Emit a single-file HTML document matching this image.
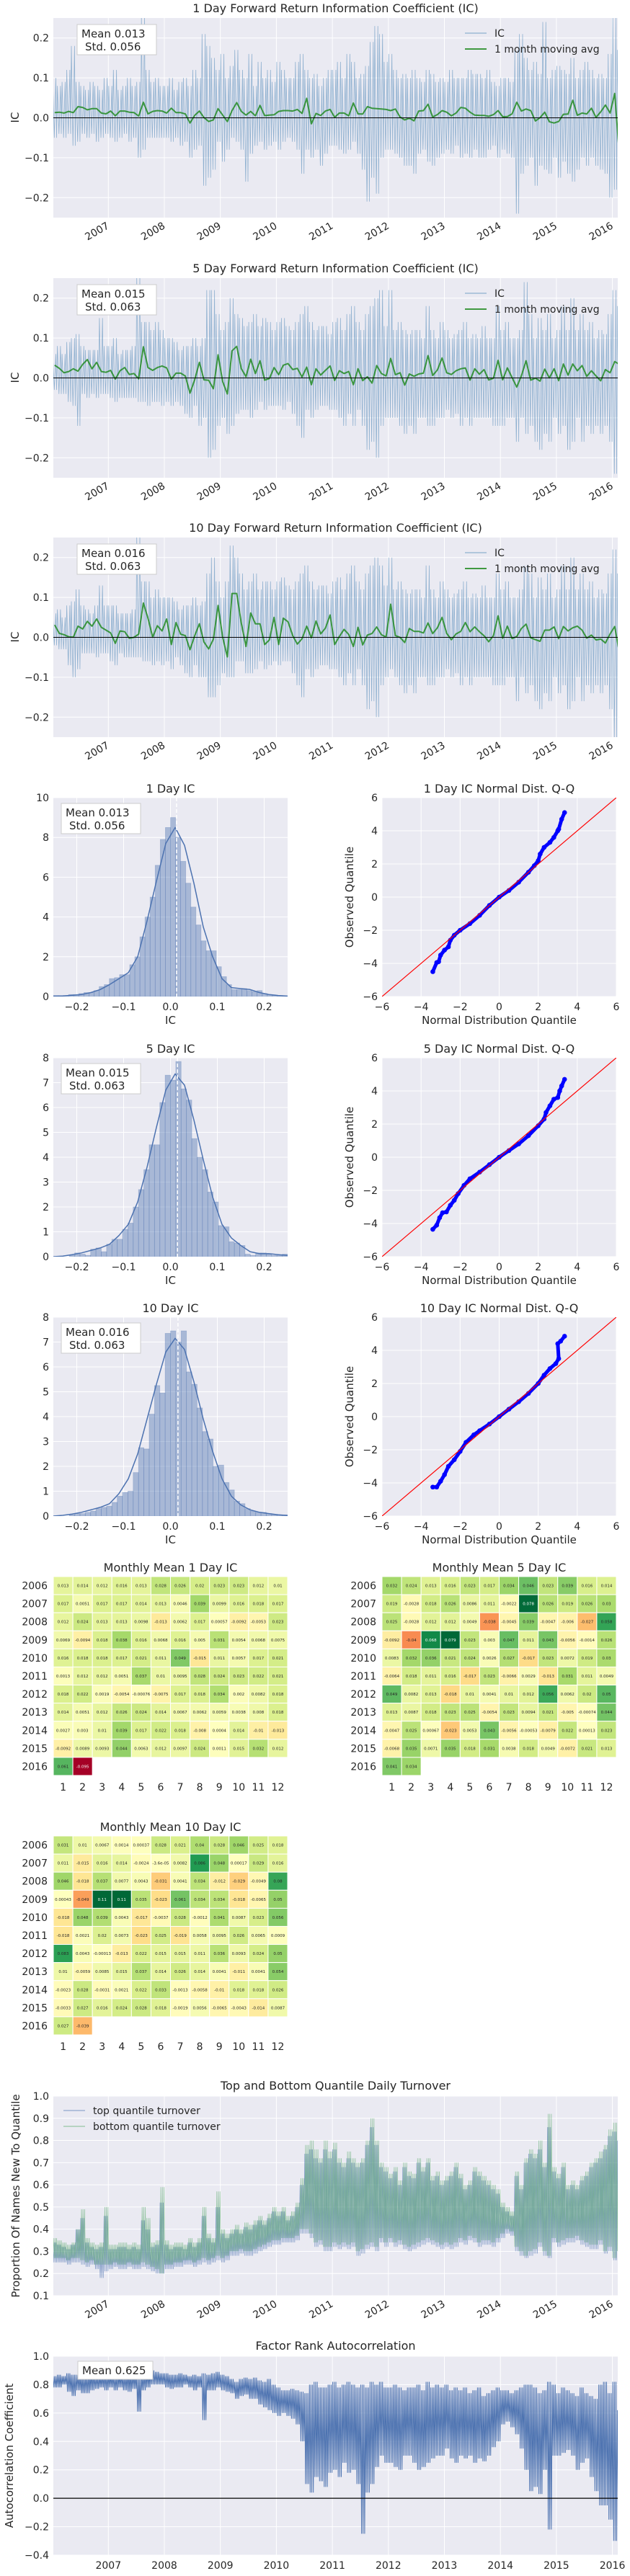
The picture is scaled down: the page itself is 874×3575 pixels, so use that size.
<!DOCTYPE html>
<html><head><meta charset="utf-8">
<style>
html,body{margin:0;padding:0;background:#fff;}
svg{display:block;font-family:"DejaVu Sans","Liberation Sans",sans-serif;}
</style></head>
<body>
<svg id="chart" xmlns="http://www.w3.org/2000/svg" width="874" height="3575" viewBox="0 0 874 3575"></svg>
<script>
// ---------- DATA ----------
const monthLabels = [1,2,3,4,5,6,7,8,9,10,11,12];
const yearLabels = [2006,2007,2008,2009,2010,2011,2012,2013,2014,2015,2016];
const dateTicks = [2007,2008,2009,2010,2011,2012,2013,2014,2015,2016];
const icTicks = [-0.2,-0.1,0.0,0.1,0.2];
const turnoverTicks = [0.1,0.2,0.3,0.4,0.5,0.6,0.7,0.8,0.9,1.0];
const autoTicks = [-0.4,-0.2,0.0,0.2,0.4,0.6,0.8,1.0];
const histXTicks = [-0.2,-0.1,0.0,0.1,0.2];
const qqTicks = [-6,-4,-2,0,2,4,6];

const heat1 = [
[.013,.014,.012,.016,.013,.028,.026,.02,.023,.023,.012,.01],
[.017,.0051,.017,.017,.014,.013,.0046,.039,.0099,.016,.018,.017],
[.012,.024,.013,.013,.0098,-.013,.0062,.017,.00057,-.0092,-.0053,.023],
[.0069,-.0094,.018,.038,.016,.0068,.016,.005,.031,.0054,.0068,.0075],
[.016,.018,.018,.017,.021,.011,.049,-.015,.011,.0057,.017,.021],
[.0013,.012,.012,.0051,.037,.01,.0095,.028,.024,.023,.022,.021],
[.018,.022,.0019,-.0054,-.00076,-.0075,.017,.018,.034,.002,.0082,.018],
[.014,.0051,.012,.026,.024,.014,.0067,.0062,.0059,.0038,.008,.018],
[.0027,.003,.01,.039,.017,.022,.018,-.008,.0004,.014,-.01,-.013],
[-.0092,.0089,.0093,.044,.0063,.012,.0097,.024,.0011,.015,.032,.012],
[.061,-.095]];
const heat5 = [
[.032,.024,.013,.016,.023,.017,.034,.046,.023,.039,.016,.014],
[.019,-.0028,.018,.026,.0086,.011,-.0022,.078,.026,.019,.026,.03],
[.025,-.0028,.012,.012,.0049,-.038,-.0045,.039,-.0047,-.006,-.027,.058],
[-.0092,-.04,.068,.079,.023,.003,.047,.011,.043,-.0056,-.0014,.026],
[.0083,.032,.036,.021,.024,.0026,.027,-.017,.023,.0072,.019,.03],
[-.0064,.018,.011,.016,-.017,.023,-.0066,.0029,-.013,.031,.011,.0049],
[.049,.0082,.013,-.018,.01,.0041,.01,.012,.056,.0062,.02,.05],
[.013,.0087,.018,.023,.025,-.0054,.023,.0094,.021,-.005,-.00074,.044],
[-.0047,.025,.00067,-.023,.0053,.043,-.0056,-.00053,-.0079,.022,.00013,.023],
[-.0068,.035,.0071,.035,.018,.031,.0038,.018,.0049,-.0072,.021,.013],
[.041,.034]];
const heat10 = [
[.031,.01,.0067,.0014,.00037,.028,.021,.04,.028,.046,.025,.018],
[.011,-.015,.016,.014,-.0024,-.000036,.0082,.086,.048,.00017,.029,.016],
[.046,-.018,.037,.0077,.0043,-.031,.0041,.034,-.012,-.029,-.0049,.08],
[.00043,-.049,.11,.11,.035,-.023,.061,.034,.034,-.018,-.0065,.05],
[-.018,.048,.039,.0043,-.017,-.0037,.028,-.0012,.041,.0087,.023,.056],
[-.018,.0021,.02,.0073,-.023,.025,-.019,.0058,.0095,.026,.0065,.0009],
[.083,.0043,-.00013,-.013,.022,.015,.015,.011,.036,.0093,.024,.05],
[.01,-.0059,.0085,.015,.037,.014,.026,.014,.0041,-.011,.0041,.054],
[-.0023,.028,-.0031,.0021,.022,.033,-.0013,-.0058,-.01,.018,.018,.026],
[-.0033,.027,.016,.024,.028,.018,-.0019,.0056,-.0065,-.0043,-.014,.0087],
[.027,-.039]];

const ic1Hi = [10,8,9,12,18,9,8,7,9,8,7,10, 8,12,7,8,10,8,9,25,12,9,10,8, 8,10,7,9,10,8,12,10,21,18,15,12, 16,10,13,17,12,10,16,8,14,10,12,9, 14,12,10,10,14,16,12,10,11,8,10,12, 12,14,10,16,14,10,11,13,19,23,21,14, 16,12,10,11,10,12,10,9,12,11,9,10, 9,12,10,10,10,12,11,11,10,12,9,8, 10,10,9,17,21,15,12,14,11,24,10,12, 13,12,11,15,10,12,14,12,10,11,10,16, 25,17];
const ic1Lo = [-5,-4,-5,-4,-7,-6,-4,-5,-4,-6,-5,-4, -5,-6,-5,-4,-6,-5,-10,-8,-5,-5,-5,-5, -5,-6,-5,-7,-6,-10,-8,-7,-17,-15,-13,-6, -11,-8,-5,-6,-8,-16,-9,-7,-6,-8,-7,-6, -8,-6,-5,-6,-8,-14,-8,-10,-8,-12,-9,-7, -7,-8,-9,-8,-6,-9,-13,-21,-15,-19,-10,-8, -8,-9,-10,-12,-12,-14,-9,-8,-11,-12,-10,-9, -8,-9,-7,-10,-9,-10,-8,-10,-10,-8,-7,-10, -8,-9,-10,-24,-14,-12,-10,-17,-12,-13,-14,-10, -15,-11,-14,-16,-13,-10,-12,-10,-12,-13,-14,-20, -18,-12];
const ic5Hi = [6,8,6,9,10,11,8,7,7,7,15,8, 8,10,6,7,7,8,25,14,14,12,14,12, 10,10,9,7,8,8,10,8,10,22,22,16, 12,14,20,16,15,13,14,16,13,15,14,12, 14,15,13,12,14,16,18,14,12,13,13,11, 14,15,12,16,18,14,12,16,18,20,22,13, 22,12,14,12,11,12,12,10,18,12,10,14, 12,10,11,12,14,10,11,10,13,10,10,18, 12,14,10,10,12,24,16,10,15,12,16,10, 12,18,12,20,12,16,12,14,10,12,11,16, 22,18];
const ic5Lo = [-3,-4,-4,-6,-7,-12,-4,-5,-4,-5,-4,-4, -5,-6,-5,-5,-5,-5,-6,-6,-7,-6,-6,-7, -6,-7,-6,-7,-9,-10,-7,-12,-10,-20,-18,-12, -10,-14,-12,-9,-8,-8,-10,-8,-6,-8,-7,-7, -7,-8,-6,-9,-12,-15,-8,-10,-8,-7,-7,-8, -8,-10,-12,-9,-12,-8,-12,-18,-16,-20,-12,-10, -10,-10,-12,-14,-12,-14,-10,-10,-12,-12,-10,-10, -8,-10,-9,-12,-10,-12,-10,-10,-10,-10,-12,-12, -12,-10,-10,-16,-10,-14,-12,-16,-18,-14,-16,-10, -14,-12,-18,-16,-10,-16,-12,-14,-12,-14,-12,-16, -24,-20];
const ic10Hi = [6,7,5,8,9,12,8,7,6,8,13,8, 8,8,6,6,6,7,25,14,14,10,12,10, 10,10,9,7,8,8,10,8,9,16,20,14, 10,14,23,20,16,12,14,16,12,14,14,12, 14,15,13,12,14,16,18,14,12,13,13,11, 14,15,12,16,18,14,12,16,18,20,18,13, 20,12,14,12,11,12,12,10,18,12,10,14, 12,10,11,12,14,10,11,10,13,10,10,16, 12,14,10,10,12,18,16,10,15,12,16,10, 12,18,12,20,12,16,12,14,10,12,11,16, 22,16];
const ic10Lo = [-2,-3,-3,-7,-10,-8,-4,-4,-4,-5,-4,-4, -6,-7,-4,-5,-5,-5,-5,-6,-6,-7,-6,-7, -6,-8,-5,-7,-9,-10,-7,-10,-10,-15,-15,-12, -9,-10,-10,-6,-6,-9,-9,-8,-6,-8,-7,-6, -7,-6,-6,-9,-12,-15,-8,-10,-8,-7,-7,-8, -8,-10,-12,-9,-12,-8,-12,-18,-16,-20,-12,-10, -8,-10,-12,-14,-12,-14,-10,-10,-12,-12,-10,-10, -8,-10,-9,-12,-10,-12,-10,-10,-10,-10,-12,-12, -12,-10,-10,-16,-10,-14,-12,-16,-18,-14,-16,-10, -14,-12,-18,-16,-10,-16,-12,-14,-12,-14,-12,-18, -25,-20];

const botHi = [36,35,34,33,34,40,49,36,34,33,34,50, 33,33,34,34,33,34,33,50,45,34,35,59, 35,33,34,34,33,36,34,36,50,38,36,57, 40,38,40,42,40,43,42,44,46,44,47,50, 48,50,46,48,52,63,78,80,76,72,80,75, 79,72,70,75,72,70,72,80,90,80,70,68, 65,68,62,70,66,65,72,68,72,64,66,62, 64,66,70,65,60,62,68,66,64,62,60,58, 52,50,48,66,60,72,76,74,80,70,92,68, 65,70,60,62,60,64,66,70,72,75,78,85, 88,85];
const botLo = [27,27,27,26,27,27,26,25,26,24,24,24, 24,25,24,24,25,24,24,25,24,23,22,20, 24,24,25,25,26,26,25,26,27,26,27,28, 27,28,30,30,31,30,30,31,32,33,34,35, 35,36,36,36,37,40,40,38,34,35,32,32, 34,33,34,33,34,30,31,33,34,32,36,34, 36,34,35,33,32,33,34,35,36,35,34,33, 34,33,34,36,35,37,36,34,35,35,34,36, 38,40,39,32,30,28,30,31,34,30,28,36, 34,35,36,36,37,35,34,33,33,35,30,32, 27,30];
const topHi = [34,33,32,31,33,40,45,34,32,31,32,46, 31,31,32,32,31,32,31,44,40,32,33,52, 33,31,32,32,31,34,32,34,46,36,34,50, 38,36,38,40,38,41,40,42,44,42,45,48, 46,48,44,46,50,60,74,76,72,70,76,72, 76,70,68,72,70,68,70,78,86,78,68,66, 63,66,60,68,64,63,70,66,70,62,64,60, 62,64,68,63,58,60,66,64,62,60,58,56, 50,48,46,64,58,70,74,72,76,68,86,66, 63,68,58,60,58,62,64,68,70,72,76,82, 84,80];
const topLo = [25,25,25,24,25,25,24,23,24,22,18,21, 22,23,22,22,23,22,22,23,22,21,20,20, 22,22,23,23,24,24,23,24,25,24,25,26, 25,26,28,28,29,28,28,29,30,31,32,33, 33,34,34,34,35,38,38,36,32,33,30,30, 32,31,32,31,32,28,29,31,32,30,34,32, 34,32,33,31,30,31,32,33,34,33,32,31, 32,31,32,34,33,35,34,32,33,33,32,34, 36,38,37,30,28,27,28,29,32,28,27,34, 32,33,34,34,35,33,32,31,31,33,29,30, 26,28];

const acHi = [86,87,86,88,87,87,86,87,88,86,86,87, 87,86,87,86,88,87,87,87,88,90,89,88, 88,87,87,88,87,86,87,86,88,87,88,89, 87,86,84,82,84,85,84,85,83,82,84,80, 78,76,76,77,76,75,74,80,82,78,78,80, 82,78,80,82,80,78,80,78,82,80,82,78, 78,80,78,76,78,78,80,76,82,78,80,78, 80,76,78,76,78,74,76,78,72,74,76,78, 76,76,74,76,78,80,80,78,74,76,82,80, 74,78,76,74,72,78,74,72,70,80,82,74, 82,62];
const acLo = [78,78,80,75,72,76,74,74,76,77,78,76, 78,76,78,76,75,77,61,76,78,80,80,80, 78,77,78,78,80,78,76,78,55,76,76,78, 76,75,74,70,72,73,70,70,66,64,62,60, 58,60,58,56,52,40,10,4,15,12,8,18, 20,15,25,18,20,10,-25,4,10,22,30,25, 25,22,20,30,30,25,20,22,25,28,30,30, 35,28,25,30,28,30,25,28,26,30,36,40, 52,54,50,45,35,20,5,8,3,20,-22,30, 30,32,34,30,20,25,28,15,5,-5,-5,-15, -30,-10];

const hist1 = [0.05,0.05,0.05,0.1,0.1,0.15,0.2,0.2,0.3,0.5,0.6,0.9,0.95,1.1,1.1,1.6,2.0,3.0,4.0,5.0,6.6,7.9,8.5,9.0,8.0,6.8,5.7,4.5,3.6,2.8,2.3,2.3,1.5,1.0,0.6,0.35,0.35,0.4,0.3,0.25,0.3,0.15,0.1,0.05,0.05,0.02];
const hist5 = [0,0,0,0.05,0.15,0.1,0.05,0.3,0.35,0.2,0.5,0.7,0.7,1.1,1.35,2.0,2.7,3.5,4.5,4.5,6.2,7.3,7.1,7.85,6.75,6.3,4.75,4.0,3.5,2.6,2.2,1.25,1.2,0.6,0.55,0.45,0.1,0.05,0.15,0.15,0.1,0.05,0.05,0.1];
const hist10 = [0,0,0,0.05,0.1,0.1,0.15,0.2,0.3,0.35,0.4,0.55,0.8,0.95,1.0,1.75,2.75,2.7,4.1,5.25,4.95,7.35,7.45,7.0,7.45,5.8,5.3,4.35,3.4,3.1,2.0,2.05,1.35,1.05,0.6,0.5,0.3,0.2,0.15,0.15,0.1,0.05,0.05,0.05];
const kde1 = [0.02,0.03,0.06,0.1,0.2,0.35,0.6,0.9,1.2,2.0,3.8,5.8,7.7,8.5,7.6,5.7,3.5,2.0,0.9,0.45,0.4,0.35,0.2,0.1,0.05,0.02];
const kde5 = [0.0,0.02,0.08,0.15,0.25,0.35,0.5,0.85,1.3,2.2,3.6,5.2,6.7,7.35,6.9,5.5,3.9,2.4,1.3,0.75,0.45,0.2,0.12,0.12,0.08,0.05];
const kde10 = [0.0,0.03,0.08,0.15,0.25,0.35,0.5,0.9,1.5,2.5,3.9,5.3,6.6,7.15,6.7,5.4,3.9,2.6,1.5,0.8,0.45,0.25,0.15,0.1,0.05,0.02];
const icMeans = [0.013,0.015,0.016];
const icStds = [0.056,0.063,0.063];
const acMean = 0.625;

const qq1X = [-3.4,-3.2,-3.1,-3.0,-2.8,-2.6,-2.5,-2.3,-2.0,-1.5,-1.0,-0.5,0,0.5,1.0,1.5,1.8,2.0,2.1,2.3,2.6,2.8,3.0,3.05,3.2,3.35];
const qq1Y = [-4.5,-3.95,-3.9,-3.5,-3.2,-3.0,-2.6,-2.3,-2.0,-1.6,-1.1,-0.5,0,0.4,0.9,1.5,1.9,2.2,2.6,3.0,3.3,3.6,4.0,4.1,4.7,5.1];
const qq5X = [-3.4,-3.2,-3.05,-2.9,-2.7,-2.5,-2.3,-2.1,-1.8,-1.5,-1,-0.5,0,0.5,1,1.5,2,2.3,2.4,2.6,2.8,3.0,3.1,3.2,3.35];
const qq5Y = [-4.35,-4.1,-3.65,-3.35,-3.3,-2.9,-2.6,-2.2,-1.7,-1.3,-0.9,-0.45,0,0.4,0.8,1.3,1.9,2.3,2.7,3.1,3.5,3.6,4.0,4.3,4.7];
const qq10X = [-3.4,-3.2,-3.0,-2.8,-2.6,-2.3,-2.0,-1.7,-1.3,-1,-0.5,0,0.5,1,1.5,2,2.3,2.6,2.9,3.05,3.0,3.15,3.35];
const qq10Y = [-4.25,-4.25,-3.9,-3.5,-3.0,-2.6,-2.1,-1.55,-1.1,-0.85,-0.45,0,0.45,0.9,1.4,2.0,2.5,2.9,3.2,3.5,4.4,4.55,4.85];

// ---------- DRAWING ----------
const NS = "http://www.w3.org/2000/svg";
const svg = document.getElementById('chart');
const TXT = "#262626", BG = "#eaeaf2";
function mk(tag, attrs, parent){
  const e = document.createElementNS(NS, tag);
  for (const k in attrs) e.setAttribute(k, attrs[k]);
  (parent || svg).appendChild(e);
  return e;
}
function label(x, y, s, size, anchor, parent, nm, extra){
  const t = mk('text', Object.assign({x:x, y:y, 'font-size':size, fill:TXT, 'text-anchor':anchor||'middle'}, extra||{}), parent);
  t.textContent = s;
  
  
  return t;
}
function fmtTick(v, d){ const s = v.toFixed(d); return s.replace('-', '\u2212'); }
function group(nm){ const g = mk('g', {});   return g; }
let clipN = 0;
function axes(g, x0, y0, w, h, nm){
  const r = mk('rect', {x:x0, y:y0, width:w, height:h, fill:BG}, g);
  
  
  const id = 'clip' + (clipN++);
  const cp = mk('clipPath', {id:id}, g);
  mk('rect', {x:x0, y:y0, width:w, height:h}, cp);
  return mk('g', {'clip-path':'url(#' + id + ')'}, g);
}
function hGrid(g, x0, w, ys){ ys.forEach(y => { const l = mk('line', {x1:x0, x2:x0+w, y1:y, y2:y, stroke:'#fff', 'stroke-width':1}, g);   }); }
function vGrid(g, y0, h, xs){ xs.forEach(x => { const l = mk('line', {x1:x, x2:x, y1:y0, y2:y0+h, stroke:'#fff', 'stroke-width':1}, g);   }); }

const WX0 = 74, WW = 783, WH = 277;
function xTime(yr){ return 150.3 + (yr - 2007) * 77.7; }
function monthYear(i, f){ return 2006 + (i + f) / 12; }

function envelopePath(hi, lo, scaleY, pattern){
  let d = '';
  for (let i = 0; i < hi.length; i++){
    pattern.forEach((p, k) => {
      const v = p === 'h' ? hi[i] : (p === 'l' ? lo[i] : (hi[i] + lo[i]) / 2);
      const x = xTime(monthYear(i, (k + 0.5) / pattern.length));
      d += (d ? 'L' : 'M') + x.toFixed(1) + ',' + scaleY(v / 100).toFixed(1);
    });
  }
  return d;
}

function timeXTicks(g, yBase, rotated){
  dateTicks.forEach(t => {
    const x = xTime(t);
    if (rotated){
      label(x + 2, yBase + 14, String(t), 14, 'end', g, 'x-tick-label', {transform:'rotate(-30 ' + (x+2) + ' ' + (yBase+14) + ')'});
    } else {
      label(x, yBase + 19, String(t), 14, 'middle', g, 'x-tick-label');
    }
  });
}

const icTops = [25, 386, 746];
const icNames = ['1', '5', '10'];
const icHis = [ic1Hi, ic5Hi, ic10Hi], icLos = [ic1Lo, ic5Lo, ic10Lo], icHeats = [heat1, heat5, heat10];
icTops.forEach((top, c) => {
  const g = group('ic-timeseries-' + icNames[c] + 'd');
  const yS = v => top + 138.5 - v * 554;
  label(WX0 + WW/2, top - 8, icNames[c] + ' Day Forward Return Information Coefficient (IC)', 16, 'middle', g, 'chart-title');
  const inner = axes(g, WX0, top, WW, WH, 'plot-area');
  hGrid(inner, WX0, WW, icTicks.map(yS));
  vGrid(inner, top, WH, dateTicks.map(xTime));
  const p = mk('path', {d: envelopePath(icHis[c], icLos[c], yS, ['h','m','l','m','h','l']), fill:'none', stroke:'rgba(70,130,180,0.55)', 'stroke-width':0.8}, inner);
  
  
  const flat = [].concat(...icHeats[c]);
  let d = '';
  flat.forEach((v, i) => { d += (i ? 'L' : 'M') + xTime(monthYear(i, 0.5)).toFixed(1) + ',' + yS(v).toFixed(1); });
  const ma = mk('path', {d: d, fill:'none', stroke:'rgba(34,139,34,0.85)', 'stroke-width':2, 'stroke-linejoin':'round'}, inner);
  
  
  const z = mk('line', {x1:WX0, x2:WX0+WW, y1:yS(0), y2:yS(0), stroke:'#000', 'stroke-width':1}, inner);
  
  
  icTicks.forEach(t => label(WX0 - 6, yS(t) + 5, fmtTick(t, 1), 14, 'end', g, 'y-tick-label'));
  label(26, top + 138, 'IC', 15, 'middle', g, 'y-axis-title', {transform:'rotate(-90 26 ' + (top+138) + ')'});
  timeXTicks(g, top + WH, true);
  const box = mk('rect', {x:107, y:top+9, width:110, height:42, fill:'#fff', stroke:'#ccc', 'stroke-width':1}, g);
  
  
  label(113, top + 27, 'Mean ' + icMeans[c].toFixed(3), 15, 'start', g, 'mean-text');
  label(118, top + 45, 'Std. ' + icStds[c].toFixed(3), 15, 'start', g, 'std-text');
  const l1 = mk('line', {x1:645, x2:675, y1:top+21, y2:top+21, stroke:'rgba(70,130,180,0.7)', 'stroke-width':1}, g);
  
  
  label(686, top + 26, 'IC', 14, 'start', g, 'legend-ic');
  const l2 = mk('line', {x1:645, x2:675, y1:top+43, y2:top+43, stroke:'rgba(34,139,34,0.85)', 'stroke-width':2}, g);
  
  
  label(686, top + 48, '1 month moving avg', 14, 'start', g, 'legend-ma');
});

const hTops = [1107, 1468, 1828];
const hists = [hist1, hist5, hist10], kdes = [kde1, kde5, kde10];
const hMax = [10, 8, 8], hStep = [2, 1, 1];
const qqX = [qq1X, qq5X, qq10X], qqY = [qq1Y, qq5Y, qq10Y];
const HX0 = 74, HW = 325, QX0 = 530, QW = 325, HH = 276;
hTops.forEach((top, c) => {
  const g = group('ic-histogram-' + icNames[c] + 'd');
  const xS = v => HX0 + (v + 0.25) / 0.5 * HW;
  const yS = v => top + HH - v / hMax[c] * HH;
  label(HX0 + HW/2, top - 7, icNames[c] + ' Day IC', 16, 'middle', g, 'chart-title');
  const inner = axes(g, HX0, top, HW, HH, 'plot-area');
  const yt = []; for (let v = 0; v <= hMax[c]; v += hStep[c]) yt.push(v);
  hGrid(inner, HX0, HW, yt.map(yS));
  vGrid(inner, top, HH, histXTicks.map(xS));
  const bw = 0.5 / hists[c].length;
  hists[c].forEach((h, i) => {
    const x = xS(-0.25 + i * bw);
    const b = mk('rect', {x:x, y:yS(h), width:xS(-0.25 + (i+1)*bw) - x, height:HH - (yS(h) - top), fill:'rgba(76,114,176,0.42)', stroke:'rgba(76,114,176,0.3)', 'stroke-width':0.8}, inner);
    
    
  });
  let d = '';
  kdes[c].forEach((v, i) => { d += (i ? 'L' : 'M') + xS(-0.25 + i * 0.02).toFixed(1) + ',' + yS(v).toFixed(1); });
  const k = mk('path', {d:d, fill:'none', stroke:'#4c72b0', 'stroke-width':1.5, 'stroke-linejoin':'round'}, inner);
  
  
  const m = mk('line', {x1:xS(icMeans[c]), x2:xS(icMeans[c]), y1:top, y2:top+HH, stroke:'#fff', 'stroke-width':1.5, 'stroke-dasharray':'5,3'}, inner);
  
  
  yt.forEach(t => label(HX0 - 6, yS(t) + 5, String(t), 14, 'end', g, 'y-tick-label'));
  histXTicks.forEach(t => label(xS(t), top + HH + 19, fmtTick(t, 1), 14, 'middle', g, 'x-tick-label'));
  label(HX0 + HW/2, top + HH + 38, 'IC', 15, 'middle', g, 'x-axis-title');
  const box = mk('rect', {x:85, y:top+8, width:110, height:42, fill:'#fff', stroke:'#ccc', 'stroke-width':1}, g);
  
  
  label(91, top + 26, 'Mean ' + icMeans[c].toFixed(3), 15, 'start', g, 'mean-text');
  label(96, top + 44, 'Std. ' + icStds[c].toFixed(3), 15, 'start', g, 'std-text');

  const q = group('qq-plot-' + icNames[c] + 'd');
  const qx = v => QX0 + (v + 6) / 12 * QW;
  const qy = v => top + HH - (v + 6) / 12 * HH;
  label(QX0 + QW/2, top - 7, icNames[c] + ' Day IC Normal Dist. Q-Q', 16, 'middle', q, 'chart-title');
  const qi = axes(q, QX0, top, QW, HH, 'plot-area');
  hGrid(qi, QX0, QW, qqTicks.map(qy));
  vGrid(qi, top, HH, qqTicks.map(qx));
  let pd = '';
  qqX[c].forEach((v, i) => { pd += (i ? 'L' : 'M') + qx(v).toFixed(1) + ',' + qy(qqY[c][i]).toFixed(1); });
  const pl = mk('path', {d:pd, fill:'none', stroke:'#0000ff', 'stroke-width':5, 'stroke-linejoin':'round', 'stroke-linecap':'round'}, qi);
  
  
  qqX[c].forEach((v, i) => {
    const pt = mk('circle', {cx:qx(v), cy:qy(qqY[c][i]), r:3.3, fill:'#0000ff'}, qi);
    
    
  });
  const rl = mk('line', {x1:qx(-6), y1:qy(-6), x2:qx(6), y2:qy(6), stroke:'#ff0000', 'stroke-width':1.2}, qi);
  
  
  qqTicks.forEach(t => label(QX0 - 6, qy(t) + 5, fmtTick(t, 0), 14, 'end', q, 'y-tick-label'));
  qqTicks.forEach(t => label(qx(t), top + HH + 19, fmtTick(t, 0), 14, 'middle', q, 'x-tick-label'));
  label(QX0 + QW/2, top + HH + 38, 'Normal Distribution Quantile', 15, 'middle', q, 'x-axis-title');
  label(490, top + HH/2, 'Observed Quantile', 15, 'middle', q, 'y-axis-title', {transform:'rotate(-90 490 ' + (top+HH/2) + ')'});
});

const RDYLGN = ['#a50026','#d73027','#f46d43','#fdae61','#fee08b','#ffffbf','#d9ef8b','#a6d96a','#66bd63','#1a9850','#006837'];
function hex2rgb(h){ return [1,3,5].map(i => parseInt(h.substr(i,2),16)); }
function cmap(t){
  t = Math.max(0, Math.min(1, t)) * 10;
  const i = Math.min(9, Math.floor(t)), f = t - i;
  const a = hex2rgb(RDYLGN[i]), b = hex2rgb(RDYLGN[i+1]);
  return a.map((v, k) => Math.round(v + (b[k] - v) * f));
}
function fmtCell(v){
  if (v !== 0 && Math.abs(v) < 1e-4){
    return v.toExponential(1).replace(/e-(\d)$/, 'e-0$1');
  }
  return String(Number(v.toPrecision(2)));
}
function heatmap(mat, x0, top, w, h, title, nm){
  const g = group(nm);
  label(x0 + w/2, top - 7, title, 16, 'middle', g, 'chart-title');
  const cw = w / 12, ch = h / 11;
  const flat = [].concat(...mat);
  const vmax = Math.max(...flat.map(Math.abs));
  mat.forEach((row, r) => {
    row.forEach((v, cI) => {
      const rgb = cmap((v + vmax) / (2 * vmax));
      const cell = mk('rect', {x:x0 + cI*cw, y:top + r*ch, width:cw, height:ch, fill:'rgb(' + rgb.join(',') + ')', stroke:'#fff', 'stroke-width':1}, g);
      
      
      const lum = 0.2126*rgb[0] + 0.7152*rgb[1] + 0.0722*rgb[2];
      const t = label(x0 + cI*cw + cw/2, top + r*ch + ch/2 + 2, fmtCell(v), 5.5, 'middle', g, 'cell-value');
      t.setAttribute('fill', lum < 110 ? '#fff' : '#262626');
    });
  });
  yearLabels.forEach((y, r) => label(x0 - 8, top + r*ch + ch/2 + 5, String(y), 14, 'end', g, 'y-tick-label'));
  monthLabels.forEach((m, cI) => label(x0 + cI*cw + cw/2, top + h + 21, String(m), 14, 'middle', g, 'x-tick-label'));
}
heatmap(heat1, 74, 2188, 325, 276, 'Monthly Mean 1 Day IC', 'heatmap-1d');
heatmap(heat5, 530, 2188, 325, 276, 'Monthly Mean 5 Day IC', 'heatmap-5d');
heatmap(heat10, 74, 2548, 325, 276, 'Monthly Mean 10 Day IC', 'heatmap-10d');

(function(){
  const top = 2909;
  const g = group('turnover-chart');
  const yS = v => top + WH - (v - 0.1) / 0.9 * WH;
  label(WX0 + WW/2, top - 9, 'Top and Bottom Quantile Daily Turnover', 16, 'middle', g, 'chart-title');
  const inner = axes(g, WX0, top, WW, WH, 'plot-area');
  hGrid(inner, WX0, WW, turnoverTicks.map(yS));
  vGrid(inner, top, WH, dateTicks.map(xTime));
  const pT = mk('path', {d: envelopePath(topHi, topLo, yS, ['h','l','h','l','h','l']), fill:'none', stroke:'rgba(76,114,176,0.65)', 'stroke-width':0.8}, inner);
  
  
  const pB = mk('path', {d: envelopePath(botHi, botLo, yS, ['l','h','l','h','l','h']), fill:'none', stroke:'rgba(85,168,104,0.6)', 'stroke-width':0.8}, inner);
  
  
  turnoverTicks.forEach(t => label(WX0 - 6, yS(t) + 5, t.toFixed(1), 14, 'end', g, 'y-tick-label'));
  timeXTicks(g, top + WH, true);
  label(27, top + WH/2, 'Proportion Of Names New To Quantile', 15, 'middle', g, 'y-axis-title', {transform:'rotate(-90 27 ' + (top+WH/2) + ')'});
  const l1 = mk('line', {x1:88, x2:118, y1:top+20, y2:top+20, stroke:'rgba(76,114,176,0.7)', 'stroke-width':1}, g);
  
  
  label(129, top + 25, 'top quantile turnover', 14, 'start', g, 'legend-top');
  const l2 = mk('line', {x1:88, x2:118, y1:top+42, y2:top+42, stroke:'rgba(85,168,104,0.7)', 'stroke-width':1}, g);
  
  
  label(129, top + 47, 'bottom quantile turnover', 14, 'start', g, 'legend-bottom');
})();

(function(){
  const top = 3270;
  const g = group('autocorrelation-chart');
  const yS = v => top + (1.0 - v) / 1.4 * 276;
  label(WX0 + WW/2, top - 9, 'Factor Rank Autocorrelation', 16, 'middle', g, 'chart-title');
  const inner = axes(g, WX0, top, WW, 276, 'plot-area');
  hGrid(inner, WX0, WW, autoTicks.map(yS));
  vGrid(inner, top, 276, dateTicks.map(xTime));
  const p = mk('path', {d: envelopePath(acHi, acLo, yS, ['h','l','h','l','h','l']), fill:'none', stroke:'#4c72b0', 'stroke-width':1}, inner);
  
  
  const z = mk('line', {x1:WX0, x2:WX0+WW, y1:yS(0), y2:yS(0), stroke:'#000', 'stroke-width':1.2}, inner);
  
  
  autoTicks.forEach(t => label(WX0 - 6, yS(t) + 5, fmtTick(t, 1), 14, 'end', g, 'y-tick-label'));
  timeXTicks(g, top + 276, false);
  label(18, top + 138, 'Autocorrelation Coefficient', 15, 'middle', g, 'y-axis-title', {transform:'rotate(-90 18 ' + (top+138) + ')'});
  const box = mk('rect', {x:108, y:top+7, width:104, height:25, fill:'#fff', stroke:'#ccc', 'stroke-width':1}, g);
  
  
  label(114, top + 25, 'Mean ' + acMean.toFixed(3), 15, 'start', g, 'mean-text');
})();
</script>
</body></html>
